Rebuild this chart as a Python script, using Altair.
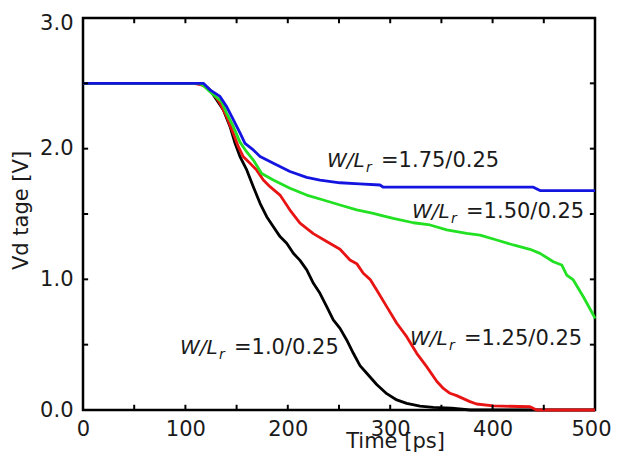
import altair as alt
import pandas as pd

# ---- data ----
t_black = [0, 110, 118, 124, 130.6, 137.1, 143.6, 148.5, 153.3, 159.9, 166.3, 172.9, 179.4,
           185.9, 192.4, 198.9, 205.4, 211.9, 218.5, 225, 231.4, 238, 244.4, 251, 257.5, 264,
           270.5, 277.1, 286.8, 296.6, 306.4, 316.1, 329.1, 342.1, 360, 378, 500]
v_black = [2.5, 2.5, 2.49, 2.449, 2.372, 2.296, 2.168, 2.041, 1.939, 1.837, 1.709, 1.582, 1.479,
           1.403, 1.327, 1.276, 1.199, 1.145, 1.072, 0.97, 0.893, 0.791, 0.689, 0.625, 0.536, 0.434,
           0.34, 0.281, 0.195, 0.125, 0.077, 0.051, 0.03, 0.02, 0.015, 0.0, 0.0]

t_red = [0, 108, 115, 120.8, 127.3, 133.8, 140.3, 146.8, 151.7, 156.6, 163.1, 169.6, 176.1, 182.6,
         192.4, 202.1, 211.9, 224.9, 238, 251, 260.7, 267.3, 273.7, 280.3, 286.8, 296.6, 306.4,
         316.1, 325.9, 335.6, 345.4, 351.9, 358.4, 364.9, 377.9, 384.4, 400.7, 436.5, 443, 500]
v_red = [2.5, 2.5, 2.49, 2.47, 2.424, 2.347, 2.245, 2.117, 2.015, 1.938, 1.888, 1.836, 1.76, 1.709,
         1.645, 1.53, 1.43, 1.35, 1.29, 1.23, 1.148, 1.12, 1.046, 1.0, 0.918, 0.791, 0.664,
         0.561, 0.434, 0.332, 0.22, 0.165, 0.128, 0.11, 0.064, 0.046, 0.031, 0.025, 0.0, 0.0]

t_green = [0, 114, 118, 124, 135.4, 140.3, 146.8, 153.3, 159.9, 166.3, 174.5, 185.8, 202.1, 218.4,
           234.7, 251, 267.3, 283.5, 290, 303, 322.6, 338.9, 355.2, 374.7, 387.7, 404, 420.2,
           436.5, 446.3, 459.3, 467.5, 472.4, 478.8, 488.6, 498.4, 500]
v_green = [2.5, 2.5, 2.48, 2.436, 2.36, 2.27, 2.17, 2.05, 1.975, 1.913, 1.81, 1.76, 1.697, 1.645,
           1.607, 1.569, 1.531, 1.505, 1.492, 1.467, 1.433, 1.416, 1.378, 1.352, 1.339, 1.301, 1.263,
           1.23, 1.199, 1.135, 1.11, 1.033, 0.995, 0.867, 0.727, 0.70]

t_blue = [0, 114, 117.5, 124, 133.8, 140.4, 146.9, 153.3, 158.2, 166.3, 172.9, 185.9, 202.1, 218.4,
          231.4, 251, 270, 290, 293.3, 439.8, 446.3, 500]
v_blue = [2.5, 2.5, 2.5, 2.45, 2.40, 2.32, 2.22, 2.12, 2.04, 1.99, 1.94, 1.889, 1.825, 1.78,
          1.76, 1.739, 1.73, 1.722, 1.705, 1.705, 1.679, 1.679]

series_names = ["1.0/0.25", "1.25/0.25", "1.50/0.25", "1.75/0.25"]
series_colors = ["#000000", "#e81414", "#22e022", "#1414e0"]

ann_t = [94.7, 319.3, 321.3, 238.3]
ann_v = [0.43, 0.497, 1.473, 1.86]
ann_text = ["=1.0/0.25", "=1.25/0.25", "=1.50/0.25", "=1.75/0.25"]

x_label_values = [0, 100, 200, 300, 400, 500]
y_label_values = [0.0, 1.0, 2.0, 3.0]
x_tick_values = [50, 100, 150, 200, 250, 300, 350, 400, 450]
y_tick_values = [0.5, 1.0, 1.5, 2.0, 2.5]

FONT = "DejaVu Sans"
TXT = "#1a1a1a"

x_scale = alt.Scale(domain=[0, 500], nice=False, zero=False)
y_scale = alt.Scale(domain=[0, 3], nice=False, zero=False)

x_axis = alt.Axis(values=x_label_values, format="d", ticks=False, domain=False, grid=False,
                  labelFlush=False, labelOverlap=False,
                  labelOffset={"condition": {"test": "datum.value == 500", "value": -4}, "value": 0},
                  labelPadding=8, labelFontSize=21, labelFont=FONT, labelColor=TXT,
                  title="Time [ps]", titleX=312, titleY=37, titleAlign="center",
                  titleBaseline="alphabetic", titleFontSize=21, titleFont=FONT,
                  titleFontWeight="normal", titleColor=TXT)
y_axis = alt.Axis(values=y_label_values, format=".1f", ticks=False, domain=False, grid=False,
                  labelFlush=False, labelOverlap=False,
                  labelPadding=10, labelFontSize=21, labelFont=FONT, labelColor=TXT,
                  labelOffset={"condition": {"test": "datum.value == 3", "value": 5}, "value": 0},
                  title="Vd tage [V]", titleAngle=270, titleX=-62, titleY=192,
                  titleAlign="center", titleBaseline="middle", titleFontSize=21, titleFont=FONT,
                  titleFontWeight="normal", titleColor=TXT)


def X(field):
    return alt.X(field, scale=x_scale, axis=x_axis)


def Y(field):
    return alt.Y(field, scale=y_scale, axis=y_axis)


series = [(t_black, v_black), (t_red, v_red), (t_green, v_green), (t_blue, v_blue)]
layers = []
for i, (ts, vs) in enumerate(series):
    d = pd.DataFrame({"t": ts, "v": vs, "idx": list(range(len(ts)))})
    layers.append(
        alt.Chart(d).mark_line(strokeWidth=2.8, strokeJoin="round", color=series_colors[i]).encode(
            x=X("t:Q"), y=Y("v:Q"), order="idx:Q",
        )
    )

# inward ticks
XT_LEN = 0.04   # in volts (~5 px)
YT_LEN = 5.0    # in ps (~5 px)
xt = pd.DataFrame({
    "t": x_tick_values + x_tick_values,
    "v0": [0.0] * len(x_tick_values) + [3.0] * len(x_tick_values),
    "v1": [XT_LEN] * len(x_tick_values) + [3.0 - XT_LEN] * len(x_tick_values),
})
yt = pd.DataFrame({
    "v": y_tick_values + y_tick_values,
    "t0": [0.0] * len(y_tick_values) + [500.0] * len(y_tick_values),
    "t1": [YT_LEN] * len(y_tick_values) + [500.0 - YT_LEN] * len(y_tick_values),
})
xticks = alt.Chart(xt).mark_rule(color="black", strokeWidth=2).encode(
    x=X("t:Q"), y=Y("v0:Q"), y2="v1:Q",
)
yticks = alt.Chart(yt).mark_rule(color="black", strokeWidth=2).encode(
    y=Y("v:Q"), x=X("t0:Q"), x2="t1:Q",
)

ann = pd.DataFrame({"t": ann_t, "v": ann_v, "rest": ann_text, "wl": ["W/L"] * 4, "r": ["r"] * 4})
ann_base = alt.Chart(ann).encode(x=X("t:Q"), y=Y("v:Q"))
t_wl = ann_base.mark_text(align="left", baseline="alphabetic", fontSize=20, font=FONT,
                          fontStyle="italic", color=TXT).encode(text="wl:N")
t_r = ann_base.mark_text(align="left", baseline="alphabetic", fontSize=14, font=FONT,
                         fontStyle="italic", color=TXT, dx=39, dy=5).encode(text="r:N")
t_rest = ann_base.mark_text(align="left", baseline="alphabetic", fontSize=21, font=FONT,
                            color=TXT, dx=54).encode(text="rest:N")

chart = alt.layer(*layers, xticks, yticks, t_wl, t_r, t_rest).properties(
    width=512, height=392,
    autosize=alt.AutoSizeParams(type="none"),
    padding={"left": 75, "top": 10, "right": 16, "bottom": 48},
    background="white",
).configure(
    font=FONT,
    view=alt.ViewConfig(stroke="black", strokeWidth=2.5),
)

chart.save("out.html", embed_options={"renderer": "svg", "actions": False})
